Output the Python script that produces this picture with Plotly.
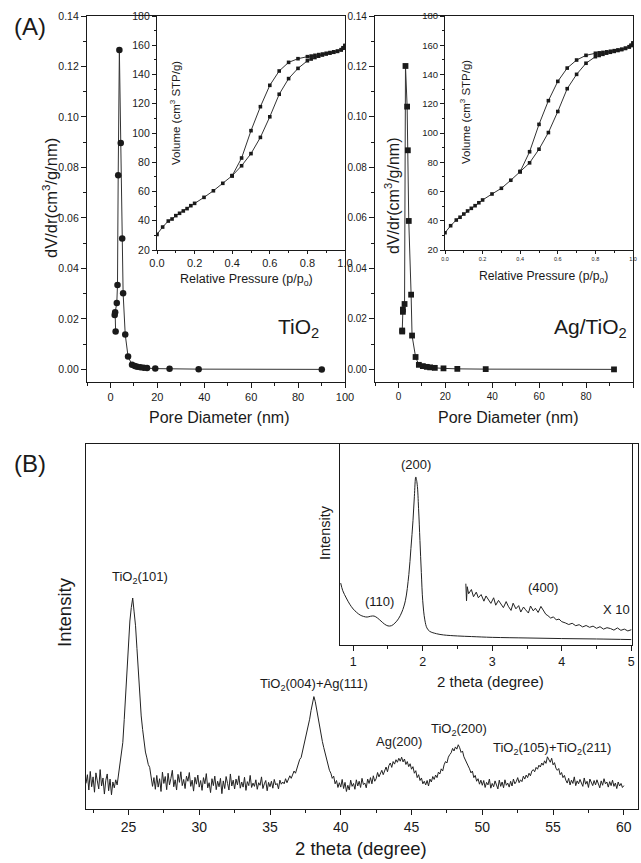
import plotly.graph_objects as go

# ---------------- DATA ----------------
# (A) pore size distribution, TiO2
tio2_pore_d = [2.2, 1.8, 2.0, 2.7, 3.0, 3.3, 3.8, 4.4, 5.0, 5.4, 6.3, 7.5, 9.2, 10.4, 11.4, 12.8, 14.2, 15.6, 19.1, 25.2, 37.6, 90.1]
tio2_dvdr = [0.0150, 0.0215, 0.0226, 0.0263, 0.0334, 0.0769, 0.1265, 0.0897, 0.0519, 0.0302, 0.0138, 0.0051, 0.0018, 0.0013, 0.0010, 0.0008, 0.0006, 0.0005, 0.0003, 0.0002, 0.0001, 0.0000]
# (A) pore size distribution, Ag/TiO2
agtio2_pore_d = [1.6, 1.6, 1.9, 1.9, 2.6, 3.0, 3.7, 4.0, 4.4, 5.4, 5.8, 7.3, 8.7, 10.4, 12.1, 13.5, 15.5, 19.2, 25.1, 37.2, 91.9]
agtio2_dvdr = [0.0150, 0.0154, 0.0228, 0.0237, 0.0259, 0.1202, 0.1041, 0.0868, 0.0588, 0.0296, 0.0134, 0.0049, 0.0018, 0.0013, 0.0010, 0.0008, 0.0006, 0.0004, 0.0002, 0.0001, 0.0000]

# (A) insets: N2 isotherms
p_low = [0.0, 0.03, 0.06, 0.08, 0.10, 0.12, 0.14, 0.16, 0.18, 0.20, 0.25, 0.30, 0.35, 0.40]
p_high = [0.40, 0.45, 0.50, 0.55, 0.60, 0.65, 0.70, 0.75, 0.80, 0.82, 0.84, 0.86, 0.88, 0.90, 0.92, 0.94, 0.96, 0.98, 0.99, 1.0]
tio2_v_low = [30.7, 35.7, 39.8, 41.2, 43.5, 45.1, 46.7, 48.3, 50.3, 51.9, 56.0, 60.5, 65.6, 70.8]
tio2_v_ads = [70.8, 77.6, 85.9, 97.0, 111.1, 126.5, 137.2, 144.2, 149.4, 150.6, 151.6, 152.5, 153.3, 154.0, 154.6, 155.2, 155.8, 156.8, 158.0, 159.8]
tio2_v_des = [70.8, 82.9, 101.6, 118.0, 132.6, 142.4, 148.3, 150.8, 152.2, 152.6, 153.1, 153.6, 154.0, 154.5, 155.0, 155.5, 156.0, 157.0, 158.3, 159.8]
ag_v_low = [31.8, 36.6, 40.5, 42.4, 44.6, 46.7, 48.5, 50.3, 52.3, 54.2, 58.3, 62.2, 67.7, 73.6]
ag_v_ads = [73.6, 79.6, 88.9, 100.3, 114.7, 130.3, 140.1, 147.7, 152.2, 153.0, 153.8, 154.6, 155.2, 155.8, 156.4, 157.0, 157.8, 158.8, 159.8, 161.5]
ag_v_des = [73.6, 87.2, 105.9, 122.1, 135.3, 144.4, 149.9, 153.1, 154.5, 154.8, 155.1, 155.5, 155.9, 156.3, 156.8, 157.3, 158.0, 159.0, 160.0, 161.5]

# (B) wide-angle XRD, 22.0 .. 60.0 deg, step 0.1 (arb. units)
xrd_start, xrd_step = 22.0, 0.1
xrd_intensity = [
    7.0, 9.4, 5.2, 10.3, 6.1, 8.8, 4.6, 9.9, 7.7, 5.5,
    10.8, 6.3, 8.5, 4.1, 7.9, 9.6, 5.0, 8.2, 3.9, 7.4,
    5.8, 8.0, 6.6, 9.4, 11.3, 14.8, 18.2, 24.5, 31.0, 39.0,
    46.0, 51.5, 55.2, 57.8, 54.0, 50.2, 44.0, 37.2, 30.5, 25.5,
    21.8, 18.5, 15.6, 14.0, 12.2, 11.4, 9.0, 6.2, 8.6, 5.4,
    9.2, 6.0, 8.3, 4.8, 10.1, 7.0, 8.9, 5.3, 9.8, 6.6,
    8.4, 10.6, 6.1, 8.0, 5.2, 9.5, 7.3, 10.2, 6.4, 8.1,
    5.6, 9.0, 7.6, 10.0, 6.2, 7.9, 4.9, 8.7, 6.8, 9.3,
    6.0, 7.8, 5.1, 8.6, 6.9, 9.7, 5.8, 7.2, 4.5, 8.3,
    6.4, 9.0, 5.3, 7.6, 6.1, 8.4, 4.2, 7.7, 5.6, 8.9,
    7.0, 5.2, 9.6, 6.3, 7.9, 5.5, 8.2, 6.6, 9.1, 5.7,
    7.4, 6.0, 8.7, 5.1, 7.5, 6.4, 9.2, 5.9, 7.1, 6.2,
    8.0, 5.4, 7.2, 6.5, 8.8, 5.6, 6.9, 7.8, 5.0, 7.3,
    6.1, 7.6, 5.7, 8.1, 6.6, 7.0, 5.5, 7.9, 6.8, 7.4,
    6.9, 8.3, 7.2, 8.0, 9.1, 8.4, 9.6, 10.4, 9.8, 11.2,
    12.0, 13.6, 14.1, 15.8, 17.4, 18.6, 20.9, 22.8, 24.6, 27.0,
    28.6, 30.8, 29.4, 27.0, 24.8, 22.0, 20.6, 18.5, 16.8, 15.2,
    13.6, 12.1, 10.6, 9.8, 8.4, 9.0, 6.9, 7.8, 5.9, 7.2,
    6.0, 8.1, 5.6, 7.3, 4.8, 6.5, 5.2, 7.9, 6.2, 7.0,
    5.4, 8.0, 6.3, 7.6, 5.9, 8.4, 6.7, 7.1, 5.8, 8.2,
    7.0, 8.6, 6.9, 9.1, 7.6, 8.3, 10.0, 8.8, 9.5, 10.6,
    9.4, 10.8, 11.5, 10.2, 11.9, 12.6, 11.4, 13.0, 12.3, 13.5,
    12.8, 13.9, 13.1, 14.2, 12.9, 13.7, 12.2, 13.0, 11.6, 12.4,
    10.9, 11.6, 9.8, 10.5, 8.6, 9.4, 7.8, 8.5, 6.9, 7.6,
    6.6, 7.8, 6.3, 8.2, 7.4, 8.9, 8.1, 9.3, 8.6, 10.1,
    9.6, 11.0, 10.4, 12.1, 13.0, 12.6, 14.2, 14.9, 15.4, 16.6,
    15.9, 17.0, 16.4, 17.6, 16.8, 15.5, 15.9, 14.3, 13.6, 12.8,
    11.8, 11.0, 9.9, 10.4, 8.6, 9.2, 7.6, 8.3, 6.8, 7.9,
    6.5, 7.8, 5.9, 7.3, 6.6, 8.2, 5.7, 7.0, 6.1, 7.7,
    6.8, 5.5, 7.9, 6.2, 7.4, 5.8, 8.0, 6.5, 7.1, 6.0,
    7.6, 6.3, 8.2, 6.9, 7.5, 8.6, 7.2, 8.0, 7.5, 9.0,
    8.2, 9.3, 8.6, 9.8, 9.1, 10.4, 10.8, 10.2, 11.4, 10.9,
    12.0, 11.5, 12.6, 12.0, 13.2, 12.5, 14.3, 13.4, 12.8, 13.9,
    12.1, 12.7, 11.2, 10.6, 11.1, 9.4, 10.0, 8.6, 9.2, 7.9,
    7.1, 8.4, 6.6, 7.9, 7.0, 8.8, 6.4, 7.7, 6.9, 8.1,
    7.3, 6.2, 8.5, 6.8, 7.6, 5.9, 8.2, 7.0, 6.4, 7.8,
    6.6, 8.0, 7.1, 5.8, 7.7, 6.5, 8.3, 6.9, 7.4, 6.0,
    7.5, 6.4, 7.9, 6.2, 7.1, 5.6, 7.4, 6.3, 7.0, 5.9,
    6.4,
]
xrd_theta = [round(xrd_start + i * xrd_step, 2) for i in range(len(xrd_intensity))]

# (B) inset: low-angle XRD
low_theta = [0.82, 0.85, 0.9, 0.95, 1.0, 1.05, 1.1, 1.15, 1.2, 1.25, 1.3, 1.35, 1.4, 1.45, 1.5, 1.55, 1.6, 1.65, 1.7, 1.75, 1.8, 1.83, 1.86, 1.88, 1.9, 1.92, 1.94, 1.96, 1.98, 2.0, 2.03, 2.06, 2.1, 2.2, 2.3, 2.5, 2.7, 3.0, 3.5, 4.0, 4.5, 5.0]
low_int = [30.8, 27.0, 23.4, 20.3, 17.9, 16.2, 14.9, 14.2, 13.9, 14.3, 14.4, 13.4, 11.9, 10.4, 9.5, 9.6, 10.9, 13.0, 16.4, 22.0, 35.0, 48.0, 62.0, 74.0, 83.6, 80.0, 68.0, 52.0, 36.0, 22.0, 12.5, 8.5, 6.8, 5.6, 5.0, 4.5, 4.2, 3.8, 3.5, 3.2, 3.0, 2.7]
x10_theta = [2.62, 2.63, 2.64, 2.66, 2.70, 2.73, 2.77, 2.80, 2.84, 2.88, 2.91, 2.95, 2.98, 3.02, 3.05, 3.09, 3.12, 3.16, 3.20, 3.23, 3.27, 3.30, 3.34, 3.38, 3.41, 3.45, 3.48, 3.52, 3.55, 3.59, 3.62, 3.66, 3.70, 3.73, 3.77, 3.80, 3.84, 3.88, 3.92, 3.96, 4.00, 4.05, 4.10, 4.15, 4.20, 4.25, 4.30, 4.35, 4.40, 4.45, 4.50, 4.55, 4.60, 4.65, 4.70, 4.75, 4.80, 4.85, 4.90, 4.95, 5.00]
x10_int = [30.5, 22.0, 29.0, 25.5, 27.6, 24.0, 26.3, 23.5, 25.1, 21.8, 24.4, 22.6, 20.7, 23.5, 19.8, 22.2, 20.9, 18.6, 21.6, 19.3, 17.2, 20.8, 18.0, 19.6, 16.4, 18.9, 17.5, 15.9, 19.4, 17.0, 18.3, 16.2, 19.2, 17.4, 15.3, 14.6, 13.4, 14.0, 12.5, 12.9, 11.6, 11.0, 10.2, 10.8, 9.6, 10.1, 9.0, 9.7, 8.8, 9.4, 8.3, 9.1, 7.9, 8.6, 8.2, 7.4, 8.5, 7.3, 7.9, 7.0, 7.6]

# ---------------- FIGURE ----------------
W, H = 641, 863
FONT = "Liberation Sans, Arial, Helvetica, sans-serif"
INK = "#1a1a1a"


def fx(px):
    return px / W


def fy(py):
    return 1 - py / H


fig = go.Figure()

LW = 1
# A-left main
fig.add_trace(go.Scatter(x=tio2_pore_d, y=tio2_dvdr, mode="lines+markers",
                         line=dict(color="#333", width=LW),
                         marker=dict(symbol="circle", size=6.5, color=INK),
                         xaxis="x", yaxis="y"))
# A-left inset
for xs, ys in ((p_low, tio2_v_low), (p_high, tio2_v_ads), (p_high, tio2_v_des)):
    fig.add_trace(go.Scatter(x=xs, y=ys, mode="lines+markers",
                             line=dict(color="#333", width=LW),
                             marker=dict(symbol="square", size=3.6, color=INK),
                             xaxis="x2", yaxis="y2"))
# A-right main
fig.add_trace(go.Scatter(x=agtio2_pore_d, y=agtio2_dvdr, mode="lines+markers",
                         line=dict(color="#333", width=LW),
                         marker=dict(symbol="square", size=5.8, color=INK),
                         xaxis="x3", yaxis="y3"))
# A-right inset
for xs, ys in ((p_low, ag_v_low), (p_high, ag_v_ads), (p_high, ag_v_des)):
    fig.add_trace(go.Scatter(x=xs, y=ys, mode="lines+markers",
                             line=dict(color="#333", width=LW),
                             marker=dict(symbol="square", size=3.6, color=INK),
                             xaxis="x4", yaxis="y4"))
# B main
fig.add_trace(go.Scatter(x=xrd_theta, y=xrd_intensity, mode="lines",
                         line=dict(color="#222", width=1),
                         xaxis="x5", yaxis="y5"))
# B inset
fig.add_trace(go.Scatter(x=low_theta, y=low_int, mode="lines", line_shape="spline",
                         line=dict(color="#222", width=1), xaxis="x6", yaxis="y6"))
fig.add_trace(go.Scatter(x=x10_theta, y=x10_int, mode="lines",
                         line=dict(color="#222", width=1), xaxis="x6", yaxis="y6"))


def ax(domain, rng, anchor, dtick=None, minor=None, size=11, fmt=None, labels=True,
       ticks="outside", tick0=0, tlen=5):
    d = dict(domain=domain, range=rng, anchor=anchor, showline=True, linecolor=INK,
             linewidth=1.2, mirror=True, ticks=ticks, ticklen=tlen, tickwidth=1, tickcolor=INK,
             showgrid=False, zeroline=False, showticklabels=labels, automargin=False,
             tickfont=dict(family=FONT, size=size, color=INK))
    if dtick is not None:
        d.update(tick0=tick0, dtick=dtick)
    if fmt:
        d["tickformat"] = fmt
    if minor:
        d["minor"] = dict(ticks="outside", ticklen=max(2, tlen - 2), tickwidth=1, tickcolor=INK,
                          dtick=minor, tick0=tick0, showgrid=False)
    return d


# domains in pixels -> paper
A_y = [fy(382), fy(16)]
Ain_y = [fy(250), fy(16)]

fig.update_layout(
    template="none",
    width=W, height=H, margin=dict(l=0, r=0, t=0, b=0, pad=0), autosize=False,
    paper_bgcolor="white", plot_bgcolor="rgba(0,0,0,0)", showlegend=False,
    font=dict(family=FONT, color=INK),
    xaxis=ax([fx(87), fx(345)], [-10, 100], "y", 20, 10, 11),
    yaxis=ax(A_y, [-0.005, 0.14], "x", 0.02, 0.01, 10.5, ".2f"),
    xaxis2=ax([fx(157), fx(345)], [0, 1], "y2", 0.2, 0.1, 11, ".1f", tlen=3),
    yaxis2=ax(Ain_y, [20, 180], "x2", 20, 10, 10.5, tlen=4),
    xaxis3=ax([fx(375), fx(633)], [-10, 100], "y3", 20, 10, 10),
    yaxis3=ax(A_y, [-0.005, 0.14], "x3", 0.02, 0.01, 10, ".2f"),
    xaxis4=ax([fx(445), fx(633)], [0, 1], "y4", 0.2, 0.1, 5.5, ".1f", tlen=3),
    yaxis4=ax(Ain_y, [20, 180], "x4", 20, 10, 9.5, tlen=4),
    xaxis5=ax([fx(86), fx(638)], [22, 61], "y5", 5, 2.5, 14),
    yaxis5=ax([fy(809), fy(444)], [0, 100], "x5", labels=False, ticks=""),
    xaxis6=ax([fx(340), fx(632)], [0.81, 5.01], "y6", 1, 0.5, 12.5),
    yaxis6=ax([fy(645), fy(444)], [0, 100], "x6", labels=False, ticks=""),
)


def ann(text, x, y, size, angle=0):
    fig.add_annotation(text=text, x=fx(x), y=fy(y), xref="paper", yref="paper",
                       showarrow=False, textangle=angle, xanchor="center", yanchor="middle",
                       font=dict(family=FONT, size=size, color=INK))


# panel labels
ann("(A)", 30, 27, 24)
ann("(B)", 30, 463, 24)
# A titles
ann("dV/dr(cm<sup>3</sup>/g/nm)", 50, 198, 16.5, -90)
ann("dV/dr(cm<sup>3</sup>/g/nm)", 392, 196, 16, -90)
ann("Pore Diameter (nm)", 219, 417, 16)
ann("Pore Diameter (nm)", 508, 417, 16)
ann("Relative Pressure (p/p<sub>o</sub>)", 246, 280, 12.5)
ann("Relative Pressure (p/p<sub>o</sub>)", 543, 277, 12.2)
ann("Volume (cm<sup>3</sup> STP/g)", 175, 113, 11.5, -90)
ann("Volume (cm<sup>3</sup> STP/g)", 465, 112, 11.5, -90)
ann("TiO<sub>2</sub>", 298, 328, 21)
ann("Ag/TiO<sub>2</sub>", 590, 328, 21)
# B
ann("2 theta (degree)", 361, 848, 18.5)
ann("Intensity", 64, 612, 18.5, -90)
ann("TiO<sub>2</sub>(101)", 140, 577, 13)
ann("TiO<sub>2</sub>(004)+Ag(111)", 314, 684, 13)
ann("Ag(200)", 399, 741, 13)
ann("TiO<sub>2</sub>(200)", 459, 729, 13)
ann("TiO<sub>2</sub>(105)+TiO<sub>2</sub>(211)", 552, 748, 13)
# B inset
ann("2 theta (degree)", 490, 681, 15)
ann("Intensity", 325, 532, 14.5, -90)
ann("(200)", 416, 464, 13)
ann("(110)", 379, 601, 13)
ann("(400)", 543, 587, 13)
ann("X 10", 616, 609, 13)

# remove the default 8px page margin so the figure sits at the window origin
fig.write_html("out.html", config={"displayModeBar": False},
               post_script="document.body.style.margin='0';")
